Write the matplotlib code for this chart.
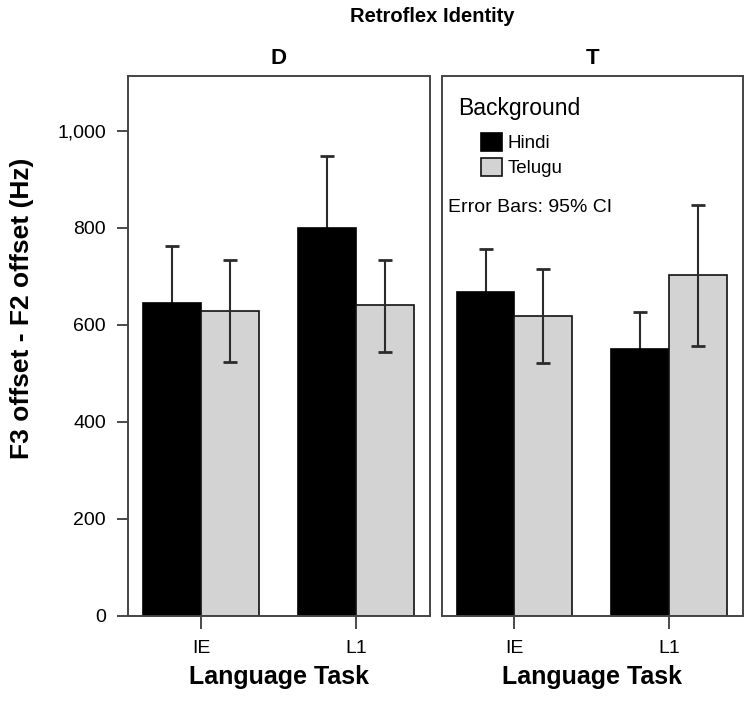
import matplotlib
matplotlib.use("Agg")
import matplotlib.pyplot as plt
import numpy as np
from matplotlib.ticker import FuncFormatter

plt.rcParams["font.family"] = ["Liberation Sans", "DejaVu Sans"]

# data
tasks = ["IE", "L1"]
panels = ["D", "T"]
groups = ["Hindi", "Telugu"]
hindi_mean = {"D": [645, 799], "T": [667, 551]}
hindi_lo = {"D": [527, 650], "T": [577, 475]}
hindi_hi = {"D": [763, 948], "T": [757, 627]}
telugu_mean = {"D": [629, 640], "T": [619, 702]}
telugu_lo = {"D": [524, 544], "T": [522, 556]}
telugu_hi = {"D": [734, 734], "T": [715, 847]}

fig = plt.figure(figsize=(7.5, 7.01), dpi=100)
W, H = 750, 701
# axes boxes in pixels: left, right, top, bottom
boxes = [(128, 430, 76, 616), (441.7, 742.7, 76, 616)]

edge = "#2b2b2b"
gray = "#d3d3d3"
bw = 0.373
x = np.arange(len(tasks))

axes = []
for i, p in enumerate(panels):
    l, r, t, b = boxes[i]
    ax = fig.add_axes([l / W, 1 - b / H, (r - l) / W, (b - t) / H])
    axes.append(ax)
    hm = np.array(hindi_mean[p])
    tm = np.array(telugu_mean[p])
    h_err = [hm - np.array(hindi_lo[p]), np.array(hindi_hi[p]) - hm]
    t_err = [tm - np.array(telugu_lo[p]), np.array(telugu_hi[p]) - tm]
    # hindi error bars sit behind the black bars, so only the upper half shows
    ax.errorbar(x - bw / 2, hm, yerr=h_err, fmt="none", ecolor=edge, elinewidth=1.5,
                capsize=5, capthick=2, zorder=1)
    bh = ax.bar(x - bw / 2, hm, bw, color="black", edgecolor="black", linewidth=1.2,
                label="Hindi", zorder=2)
    bt = ax.bar(x + bw / 2, tm, bw, color=gray, edgecolor="#111111", linewidth=1.2,
                label="Telugu", zorder=2)
    ax.errorbar(x + bw / 2, tm, yerr=t_err, fmt="none", ecolor=edge, elinewidth=1.5,
                capsize=5, capthick=2, zorder=3)
    ax.set_xlim(-0.47, 1.475)
    ax.set_ylim(0, 1113)
    ax.set_xticks(x)
    ax.set_xticklabels(tasks, fontsize=14)
    ax.tick_params(axis="x", direction="out", length=9, width=1.2, color=edge, pad=8)
    ax.set_xlabel("Language Task", fontsize=18, fontweight="bold", labelpad=6)
    ax.set_title(p, fontsize=16, fontweight="bold", pad=9)
    for s in ax.spines.values():
        s.set_color("#444444")
        s.set_linewidth(1.4)
    if i == 0:
        ax.set_yticks(np.arange(0, 1001, 200))
        ax.yaxis.set_major_formatter(FuncFormatter(lambda v, pos: f"{int(v):,}"))
        ax.tick_params(axis="y", direction="out", length=8, width=1.2, color=edge,
                       labelsize=14, pad=8)
    else:
        ax.set_yticks([])
    if i == 1:
        ax.text((458 - l) / (r - l), (b - 109) / (b - t), "Background", fontsize=16.5,
                transform=ax.transAxes, va="center", ha="left")
        ax.legend(handles=[bh, bt], loc="upper left",
                  bbox_to_anchor=((481 - l) / (r - l), (b - 133) / (b - t)),
                  frameon=False, fontsize=13.5, handlelength=1.1, handleheight=1.1,
                  handletextpad=0.3, labelspacing=0.3, borderpad=0, borderaxespad=0)
        ax.text((448 - l) / (r - l), (b - 207) / (b - t), "Error Bars: 95% CI", fontsize=14,
                transform=ax.transAxes, va="center", ha="left")

fig.text(22.5 / W, 1 - 308 / H, "F3 offset - F2 offset (Hz)", rotation=90, fontsize=19,
         fontweight="bold", ha="center", va="center")
fig.text(432 / W, 1 - 16 / H, "Retroflex Identity", fontsize=14.5, fontweight="bold",
         ha="center", va="center")

fig.savefig("out.png", dpi=100)
